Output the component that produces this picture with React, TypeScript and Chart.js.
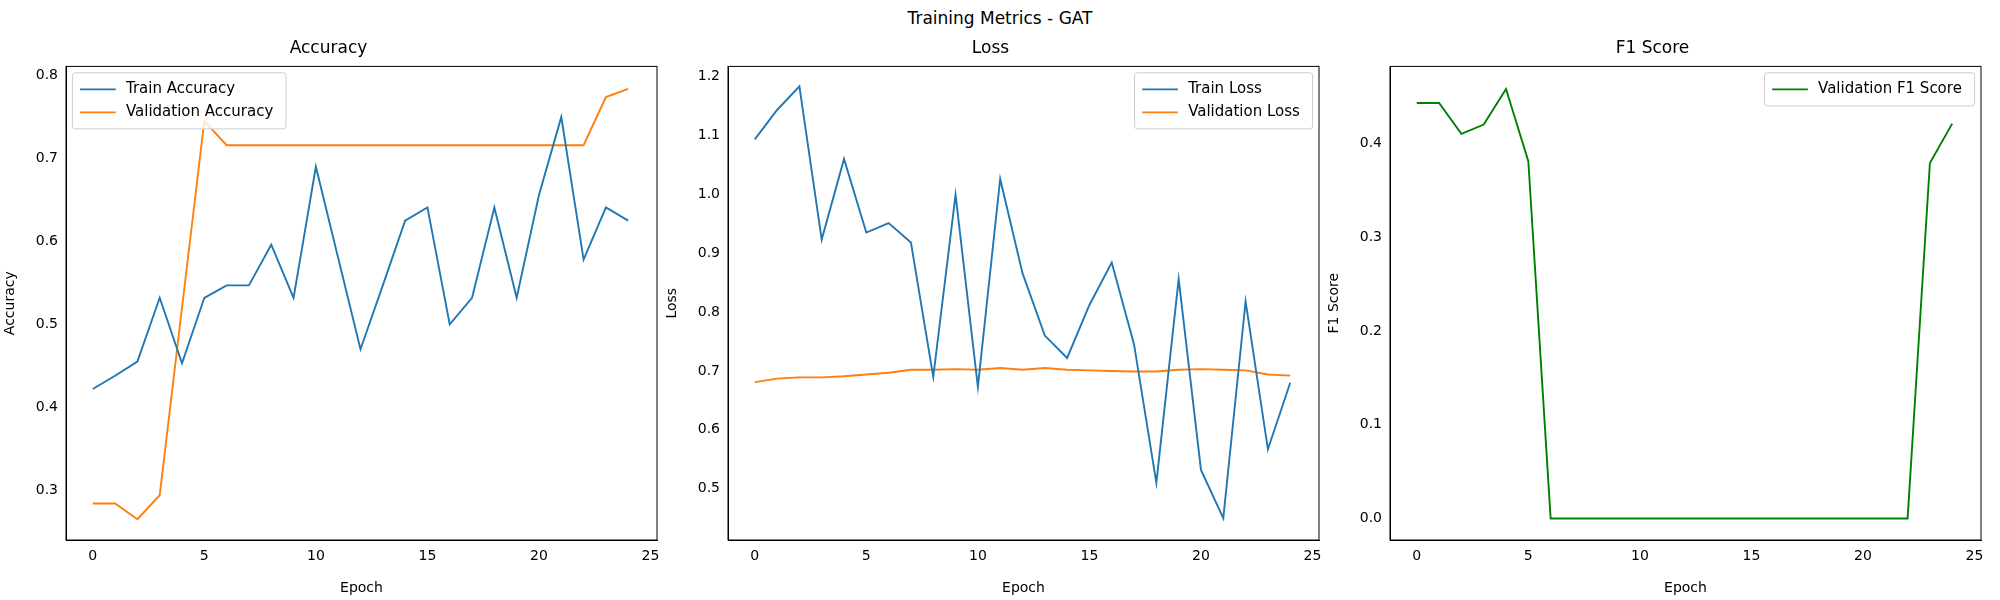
import React, { useEffect, useRef } from 'react'
import { Chart, registerables } from 'chart.js'

Chart.register(...registerables)

const epochs = Array.from({ length: 25 }, (_, i) => i)
const trainAcc = [0.422, 0.438, 0.455, 0.532, 0.453, 0.532, 0.547, 0.547, 0.596, 0.532, 0.69, 0.58, 0.47, 0.547, 0.625, 0.641, 0.5, 0.532, 0.641, 0.532, 0.656, 0.75, 0.578, 0.641, 0.625]
const valAcc = [0.284, 0.284, 0.265, 0.294, 0.52, 0.745, 0.716, 0.716, 0.716, 0.716, 0.716, 0.716, 0.716, 0.716, 0.716, 0.716, 0.716, 0.716, 0.716, 0.716, 0.716, 0.716, 0.716, 0.774, 0.784]
const trainLoss = [1.093, 1.143, 1.183, 0.923, 1.06, 0.935, 0.951, 0.918, 0.69, 0.999, 0.673, 1.026, 0.866, 0.76, 0.722, 0.812, 0.884, 0.745, 0.51, 0.856, 0.532, 0.45, 0.818, 0.567, 0.68]
const valLoss = [0.681, 0.687, 0.689, 0.689, 0.691, 0.694, 0.697, 0.702, 0.702, 0.703, 0.702, 0.705, 0.702, 0.705, 0.702, 0.701, 0.7, 0.699, 0.699, 0.702, 0.703, 0.702, 0.701, 0.694, 0.692]
const valF1 = [0.443, 0.443, 0.41, 0.42, 0.458, 0.381, 0, 0, 0, 0, 0, 0, 0, 0, 0, 0, 0, 0, 0, 0, 0, 0, 0, 0.379, 0.421]

const xTicks = [0, 5, 10, 15, 20, 25]
const FONT = 'DejaVu Sans, sans-serif'
const BLUE = '#1f77b4'
const ORANGE = '#ff7f0e'
const GREEN = '#008000'
const S = 2000 / 1568

interface Series { label: string; data: number[]; color: string }
interface PanelProps {
  left: number
  title: string
  yLabel: string
  series: Series[]
  yMin: number
  yMax: number
  yTicks: number[]
  legendPos: 'left' | 'right'
}

const boxAndLegend = {
  id: 'boxAndLegend',
  afterDraw(chart: any) {
    const { ctx, chartArea: a } = chart
    ctx.save()
    ctx.strokeStyle = '#000'
    ctx.lineWidth = 1
    ctx.strokeRect(a.left, a.top, a.right - a.left, a.bottom - a.top)
    const pos = chart.options.plugins.boxAndLegend.pos
    const ds = chart.data.datasets
    ctx.font = `${Math.round(11.5 * S)}px ${FONT}`
    const textW = Math.max(...ds.map((d: any) => ctx.measureText(d.label).width))
    const w = textW + 52 * S
    const h = ds.length * 18 * S + 8 * S
    const x = pos === 'left' ? a.left + 5 * S : a.right - 5 * S - w
    const y = a.top + 5 * S
    ctx.fillStyle = 'rgba(255,255,255,0.8)'
    ctx.strokeStyle = '#ccc'
    ctx.beginPath()
    ctx.roundRect(x, y, w, h, 3)
    ctx.fill()
    ctx.stroke()
    ds.forEach((d: any, i: number) => {
      const cy = y + 13 * S + i * 18 * S
      ctx.strokeStyle = d.borderColor
      ctx.lineWidth = 1.8
      ctx.beginPath()
      ctx.moveTo(x + 6 * S, cy)
      ctx.lineTo(x + 34 * S, cy)
      ctx.stroke()
      ctx.fillStyle = '#000'
      ctx.textBaseline = 'middle'
      ctx.fillText(d.label, x + 42 * S, cy)
    })
    ctx.restore()
  },
}

function Panel({ left, title, yLabel, series, yMin, yMax, yTicks, legendPos }: PanelProps) {
  const ref = useRef<HTMLCanvasElement>(null)
  useEffect(() => {
    if (!ref.current) return
    const tickFont = { family: FONT, size: Math.round(11 * S) }
    const chart = new Chart(ref.current, {
      type: 'line',
      data: {
        datasets: series.map((s) => ({
          label: s.label,
          data: s.data.map((v, i) => ({ x: epochs[i], y: v })),
          borderColor: s.color,
          borderWidth: 1.9,
          pointRadius: 0,
          tension: 0,
        })),
      },
      plugins: [boxAndLegend],
      options: {
        animation: false,
        responsive: false,
        layout: { padding: { right: Math.round(10 * S), left: 0, top: 0, bottom: 0 } },
        plugins: {
          legend: { display: false },
          tooltip: { enabled: false },
          title: { display: true, text: title, color: '#000', font: { family: FONT, size: Math.round(13.5 * S), weight: 'normal' }, padding: { top: 0, bottom: 8 } },
          boxAndLegend: { pos: legendPos },
        } as any,
        scales: {
          x: {
            type: 'linear',
            min: -1.2,
            max: 25.29,
            grid: { display: false, drawTicks: true, tickLength: 5 } as any,
            border: { color: '#000' },
            afterBuildTicks: (s: any) => { s.ticks = xTicks.map((v) => ({ value: v })) },
            afterFit: (s: any) => { s.height = Math.round(46 * S) },
            ticks: { color: '#000', font: tickFont, maxRotation: 0, autoSkip: false },
            title: { display: true, text: 'Epoch', color: '#000', font: tickFont, padding: 2 },
          },
          y: {
            min: yMin,
            max: yMax,
            grid: { display: false, drawTicks: true, tickLength: 5 } as any,
            border: { color: '#000' },
            afterBuildTicks: (s: any) => { s.ticks = yTicks.map((v) => ({ value: v })) },
            afterFit: (s: any) => { s.width = Math.round(52 * S) },
            ticks: { color: '#000', font: tickFont, autoSkip: false, callback: (v: any) => Number(v).toFixed(1) },
            title: { display: true, text: yLabel, color: '#000', font: tickFont, padding: 2 },
          },
        },
      },
    })
    return () => chart.destroy()
  }, [])
  return <canvas ref={ref} width={Math.round(525 * S)} height={Math.round(440 * S)} style={{ position: 'absolute', left, top: Math.round(30 * S) }} />
}

export default function App() {
  useEffect(() => { document.body.style.margin = '0' }, [])
  return (
    <div style={{ position: 'relative', width: 2000, height: 600, background: '#fff', fontFamily: FONT }}>
      <div style={{ position: 'absolute', top: 8, width: '100%', textAlign: 'center', fontSize: 17 }}>Training Metrics - GAT</div>
      <Panel left={0} title="Accuracy" yLabel="Accuracy" legendPos="left" yMin={0.24} yMax={0.811}
        yTicks={[0.3, 0.4, 0.5, 0.6, 0.7, 0.8]}
        series={[{ label: 'Train Accuracy', data: trainAcc, color: BLUE }, { label: 'Validation Accuracy', data: valAcc, color: ORANGE }]} />
      <Panel left={Math.round(519 * S)} title="Loss" yLabel="Loss" legendPos="right" yMin={0.413} yMax={1.217}
        yTicks={[0.5, 0.6, 0.7, 0.8, 0.9, 1.0, 1.1, 1.2]}
        series={[{ label: 'Train Loss', data: trainLoss, color: BLUE }, { label: 'Validation Loss', data: valLoss, color: ORANGE }]} />
      <Panel left={Math.round(1038 * S)} title="F1 Score" yLabel="F1 Score" legendPos="right" yMin={-0.023} yMax={0.482}
        yTicks={[0, 0.1, 0.2, 0.3, 0.4]}
        series={[{ label: 'Validation F1 Score', data: valF1, color: GREEN }]} />
    </div>
  )
}
